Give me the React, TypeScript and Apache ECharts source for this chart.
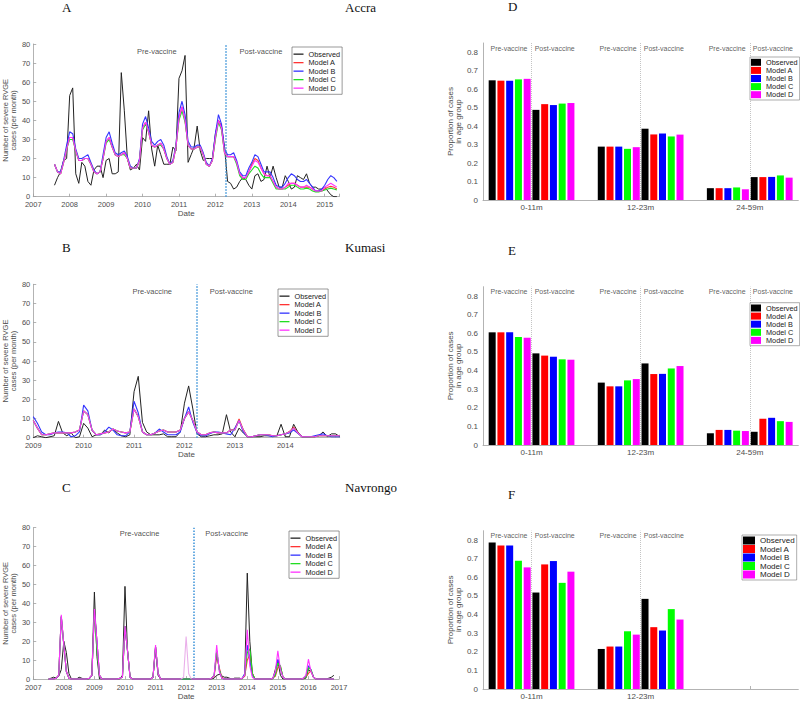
import React, { useEffect, useRef } from 'react';
import * as echarts from 'echarts';

// ---------- labels ----------
const MODELS = ['Observed', 'Model A', 'Model B', 'Model C', 'Model D'];
const AGE_GROUPS = ['0-11m', '12-23m', '24-59m'];
const PHASES = ['Pre-vaccine', 'Post-vaccine'];
const PANEL_LETTERS = ['A', 'B', 'C', 'D', 'E', 'F'];
const SITES = ['Accra', 'Kumasi', 'Navrongo'];
const LINE_Y_NAME = 'Number of severe RVGE\ncases (per month)';
const BAR_Y_NAME = 'Proportion of cases\nin age group';
const X_NAME = 'Date';

// ---------- monthly case counts ----------
// Accra: Aug 2007 .. May 2015
const ACCRA_START = 2007 + 7 / 12;
const ACCRA_OBS = [
  6, 10, 13, 19, 20,
  53, 57, 12, 7, 18, 16, 8, 6, 14, 16, 16, 10,
  19, 20, 12, 12, 13, 65, 45, 20, 14, 15, 17, 14,
  31, 29, 45, 25, 16, 27, 22, 17, 17, 17, 26, 24,
  62, 66, 74, 18, 22, 26, 37, 24, 19, 20, 20, 20,
  33, 40, 37, 26, 8, 7, 4, 5, 8, 10, 9, 6,
  4, 11, 12, 8, 9, 16, 10, 16, 10, 5, 5, 11,
  8, 4, 5, 11, 10, 9, 12, 7, 5, 5, 4, 4,
  5, 3, 1, 0, 0,
];
const ACCRA_A = [
  17, 13, 12, 18, 25,
  31, 31, 24, 19, 19, 20, 20, 17, 13, 12, 13, 20,
  29, 31, 26, 22, 21, 22, 23, 20, 15, 15, 15, 19,
  36, 39, 34, 27, 26, 27, 28, 25, 20, 17, 18, 26,
  41, 47, 40, 27, 25, 25, 26, 26, 22, 17, 16, 19,
  31, 40, 36, 23, 21, 21, 21, 18, 12, 10, 10, 13,
  17, 20, 19, 15, 12, 11, 11, 8, 5, 4, 4, 5,
  6, 7, 7, 6, 5, 5, 5, 5, 4, 3, 3, 3,
  4, 5, 5.5, 5, 4,
];
const ACCRA_B = [
  17, 13, 13, 19, 27,
  34, 33, 25, 20, 20, 21, 22, 18, 14, 12, 13, 22,
  31, 34, 28, 23, 22, 23, 24, 21, 16, 15, 15, 20,
  38, 42, 36, 29, 27, 29, 30, 27, 21, 17, 19, 27,
  44, 50, 43, 29, 26, 26, 27, 27, 23, 18, 16, 20,
  33, 43, 38, 25, 22, 22, 23, 19, 13, 11, 11, 15,
  18, 22, 21, 17, 13, 13, 13, 10, 6, 5, 5, 7,
  10, 12, 11, 9, 8, 8, 9, 7, 5, 3, 3, 4,
  6, 9, 11, 10, 8,
];
const ACCRA_C = [
  17, 13, 12, 18, 25,
  30, 30, 24, 19, 19, 20, 20, 17, 13, 12, 13, 20,
  28, 30, 26, 22, 21, 22, 22, 20, 15, 15, 15, 19,
  35, 38, 34, 27, 26, 27, 27, 25, 20, 17, 18, 26,
  40, 45, 39, 27, 25, 25, 26, 26, 22, 17, 16, 19,
  30, 39, 35, 23, 21, 21, 21, 17, 11, 9, 9, 12,
  14, 16, 15, 12, 10, 10, 10, 7, 4, 4, 4, 4,
  5, 6, 6, 5, 4, 4, 4.5, 4, 3, 2.5, 2.5, 3,
  3.5, 4, 4.5, 4, 3.5,
];
const ACCRA_D = [
  17, 13, 12, 18, 25,
  31, 31, 24, 19, 19, 20, 20, 17, 13, 12, 13, 20,
  29, 31, 26, 22, 21, 22, 23, 20, 15, 15, 15, 19,
  36, 39, 34, 27, 26, 27, 28, 25, 20, 17, 18, 26,
  41, 47, 40, 27, 25, 25, 26, 26, 22, 17, 16, 19,
  31, 40, 36, 23, 21, 21, 21, 18, 12, 10, 10, 13,
  16, 19, 18, 15, 12, 11, 11, 8, 5, 4, 4, 5,
  7, 7, 7, 6, 5, 5, 6, 5, 4, 3, 3, 3,
  5, 6, 7, 6, 5,
];

// Kumasi: Jan 2009 .. Feb 2015
const KUMASI_START = 2009;
const KUMASI_OBS = [
  0, 1, 0.5, 0, 0.5, 1, 8.5, 2.5, 1, 2.5, 0, 0.5,
  7.5, 5, 0.5, 1.5, 1.5, 4, 2.5, 4.5, 2.5, 1, 0.5, 1.5,
  24, 32, 8, 3, 1.5, 1.5, 1.5, 2, 0.5, 0.5, 0.5, 3,
  18, 27, 15, 2, 0.5, 0.5, 1, 1.5, 1.5, 2, 12, 3,
  0.5, 5, 2.5, 0.5, 0.5, 0.5, 0.5, 1, 1, 1, 1, 7,
  0.5, 0.5, 7, 3, 0.5, 0.5, 0.5, 0.5, 1, 3, 0.5, 2,
  2, 0.5,
];
const KUMASI_A = [
  9, 5, 1.5, 1.5, 2, 2.5, 2.5, 2.5, 2.5, 2.5, 3, 4,
  14, 12, 4, 1.5, 2, 2.5, 3, 4.5, 3.5, 3, 2.5, 3,
  15, 11, 3, 1.5, 1.5, 2.5, 3.5, 4, 3, 3, 3, 4,
  10, 13.5, 9, 3, 1.5, 1.5, 2.5, 3, 2.5, 2.5, 2.5, 4,
  4.5, 9.8, 4.2, 0.5, 0.5, 1, 1.5, 1.5, 1.5, 1, 1, 1.5,
  2, 3.2, 5.5, 2.7, 0.5, 0.5, 0.5, 0.5, 1, 1, 1, 1,
  1, 1,
];
const KUMASI_B = [
  11, 7.5, 3, 1.5, 1.5, 2.5, 3, 3, 2.5, 0.5, 1, 3,
  17, 14, 4, 1.5, 1.5, 3, 5.5, 4, 1.5, 1, 1, 3,
  19, 13, 3, 1.5, 1.5, 2.5, 4.5, 3, 1.5, 1.5, 1.5, 3,
  10, 16, 8, 2.5, 1, 1, 2, 3, 3, 2.5, 2, 1.5,
  5, 9, 3, 0.5, 0.5, 1, 1.5, 1.5, 1, 0.5, 1, 1.5,
  2, 2.5, 4, 2.3, 0.5, 0.5, 0.5, 1, 1.5, 2, 1, 0.5,
  0.5, 0.5,
];
const KUMASI_C = [
  9, 5, 1.5, 1.5, 2, 2.5, 2.5, 2.5, 2.5, 2.5, 3, 4,
  14, 12, 4, 1.5, 2, 2.5, 3, 4.5, 3.5, 3, 2.5, 3,
  15, 11, 3, 1.5, 1.5, 2.5, 3.5, 4, 3, 3, 3, 4,
  10, 13.5, 9, 3, 1.5, 1.5, 2.5, 3, 2.5, 2.5, 2.5, 4,
  4, 9, 4, 0.5, 0.5, 1, 1.5, 1.5, 1.5, 1, 1, 1.5,
  2, 3, 5, 2.5, 0.5, 0.5, 0.5, 0.5, 1, 1, 1, 1,
  1, 1,
];
const KUMASI_D = [
  9, 5, 1.5, 1.5, 2, 2.5, 2.5, 2.5, 2.5, 2.5, 3, 4,
  14, 12, 4, 1.5, 2, 2.5, 3, 4.5, 3.5, 3, 2.5, 3,
  15, 11, 3, 1.5, 1.5, 2.5, 3.5, 4, 3, 3, 3, 4,
  10, 13.5, 9, 3, 1.5, 1.5, 2.5, 3, 2.5, 2.5, 2.5, 4,
  4, 9, 4, 0.5, 0.5, 1, 1.5, 1.5, 1.5, 1, 1, 1.5,
  2, 3, 5, 2.5, 0.5, 0.5, 0.5, 0.5, 1, 1, 1, 1,
  1, 1,
];

// Navrongo: Jul 2007 .. Nov 2016
const NAV_START = 2007.5;
const NAV_OBS = [
  0, 0.5, 1, 0.5, 1.5, 5,
  20, 14, 3, 0, 0, 0, 1, 0.5, 0, 0, 0, 2,
  46, 12, 0, 0, 0, 0, 0, 0, 0, 0, 0, 2,
  49, 15, 1, 0, 0, 0, 0, 0, 0, 0, 0, 1,
  16, 2, 0, 0, 0, 0, 0, 0, 0, 0, 0, 0,
  0, 0, 0, 0, 0, 0, 0, 0, 0, 0, 0, 0.5,
  2, 2.5, 1.7, 1, 1, 0.5, 0, 0.5, 0.5, 0.5, 0, 2,
  56, 20, 3, 0, 0, 0, 0, 0, 0, 0, 0, 5,
  10, 2, 0, 0, 0, 0, 0, 0, 0, 0, 0, 0.5,
  5, 4, 1, 0, 0, 0, 0, 0, 0.5, 1, 2,
];
const NAV_A = [
  0, 0, 0, 0.5, 2, 33,
  18, 4, 0.5, 0, 0, 0, 0, 0, 0, 0, 0.5, 2,
  36, 20, 2, 0, 0, 0, 0, 0, 0, 0, 0.5, 1,
  28, 15, 1, 0, 0, 0, 0, 0, 0, 0, 0, 1,
  17, 3, 0, 0, 0, 0, 0, 0, 0, 0, 0, 0,
  0, 0, 0, 0, 0, 0, 0, 0, 0, 0, 0.5, 1.5,
  12, 6, 1, 0, 0, 0, 0, 0, 0, 0, 0.5, 1.5,
  10, 13, 3, 0, 0, 0, 0, 0, 0, 0, 0.5, 1.5,
  6, 7, 1, 0, 0, 0, 0, 0, 0, 0, 0.5, 1,
  3, 4.5, 1, 0, 0, 0, 0, 0, 0, 0, 0,
];
const NAV_B = [
  0, 0, 0, 0.5, 2, 33,
  18, 4, 0.5, 0, 0, 0, 0, 0, 0, 0, 0.5, 2,
  36, 20, 2, 0, 0, 0, 0, 0, 0, 0, 0.5, 1,
  28, 15, 1, 0, 0, 0, 0, 0, 0, 0, 0, 1,
  17, 3, 0, 0, 0, 0, 0, 0, 0, 0, 0, 0,
  0, 0, 0, 0, 0, 0, 0, 0, 0, 0, 0.5, 2,
  15, 5, 0.5, 0, 0, 0, 0, 0, 0, 0, 0.5, 3,
  18, 10, 2, 0, 0, 0, 0, 0, 0, 0, 0.5, 3,
  10.5, 6, 1, 0, 0, 0, 0, 0, 0, 0, 0.5, 1.5,
  7, 5, 1, 0, 0, 0, 0, 0, 0, 0, 0,
];
const NAV_C = [
  0, 0, 0, 0.5, 2, 33,
  18, 4, 0.5, 0, 0, 0, 0, 0, 0, 0, 0.5, 2,
  36, 15, 2, 0, 0, 0, 0, 0, 0, 0, 0.5, 1,
  28, 15, 1, 0, 0, 0, 0, 0, 0, 0, 0, 1,
  17, 3, 0, 0, 0, 0, 0, 0, 0, 0, 0, 0,
  0, 0, 0, 0, 0, 0, 0, 0, 0, 0, 0.5, 2,
  15, 5, 0.5, 0, 0, 0, 0, 0, 0, 0, 0.5, 2,
  14, 16, 3, 0, 0, 0, 0, 0, 0, 0, 0.5, 2,
  8.5, 7, 1, 0, 0, 0, 0, 0, 0, 0, 0.5, 1,
  6, 5, 1, 0, 0, 0, 0, 0, 0, 0, 0,
];
const NAV_D = [
  0, 0, 0, 0.5, 2, 34,
  18, 4, 0.5, 0, 0, 0, 0, 0, 0, 0, 0.5, 2,
  37, 20, 2, 0, 0, 0, 0, 0, 0, 0, 0.5, 1,
  28, 15, 1, 0, 0, 0, 0, 0, 0, 0, 0, 1,
  18, 3, 0, 0, 0, 0, 0, 0, 0, 0, 0, 1,
  22.5, 3, 0, 0, 0, 0, 0, 0, 0, 0, 0.5, 2,
  18, 4, 0.5, 0, 0, 0, 0, 0, 0, 0, 0.5, 2,
  26, 7, 1, 0, 0, 0, 0, 0, 0, 0, 0.5, 4,
  15, 5, 1, 0, 0, 0, 0, 0, 0, 0, 0.5, 2,
  10.5, 4, 1, 0, 0, 0, 0, 0, 0, 0, 0,
];
// months of Model D drawn faded in Navrongo (around Jan 2012)
const NAV_FADED = [52, 56];

// ---------- proportions by age group [group][model] ----------
const ACCRA_PRE = [[0.648, 0.646, 0.646, 0.653, 0.656], [0.289, 0.289, 0.289, 0.277, 0.286], [0.064, 0.064, 0.064, 0.068, 0.058]];
const ACCRA_POST = [[0.488, 0.519, 0.514, 0.522, 0.525], [0.386, 0.355, 0.36, 0.344, 0.354], [0.124, 0.124, 0.125, 0.133, 0.121]];
const KUMASI_PRE = [[0.605, 0.605, 0.605, 0.58, 0.576], [0.335, 0.315, 0.315, 0.347, 0.354], [0.063, 0.081, 0.081, 0.077, 0.075]];
const KUMASI_POST = [[0.492, 0.48, 0.474, 0.46, 0.458], [0.438, 0.381, 0.382, 0.411, 0.424], [0.071, 0.141, 0.146, 0.128, 0.124]];
const NAV_PRE = [[0.786, 0.771, 0.771, 0.689, 0.653], [0.215, 0.228, 0.228, 0.31, 0.292]];
const NAV_POST = [[0.518, 0.669, 0.687, 0.57, 0.63], [0.484, 0.332, 0.314, 0.429, 0.373]];

// ---------- styles ----------
const FONT = '"Liberation Sans", Arial, Helvetica, sans-serif';
const SERIF = '"Liberation Serif", "DejaVu Serif", serif';
const AX = '#a0a0a0';
const TXT = '#4d4d4d';
const LINE_COLORS = ['#222222', '#ff3333', '#3333ff', '#22dd22', '#ff33ff'];
const BAR_COLORS = ['#000000', '#ff0000', '#0000ff', '#00ff00', '#ff00ff'];
const FADED_D = '#eab0ea';
const VACC_COLOR = '#3b93d9';

const LINE_PANELS = [
  { grid: { left: 31.5, top: 44, width: 307.8, height: 152.7 }, xMin: 2007, xMax: 2015.4, lastYear: 2015, start: ACCRA_START,
    data: [ACCRA_OBS, ACCRA_A, ACCRA_B, ACCRA_C, ACCRA_D], vaccine: 2012.29, phasePos: [[2010.39, 76.3], [2013.25, 76.3]], legend: { left: 292, top: 47 } },
  { grid: { left: 30.5, top: 284.3, width: 309.2, height: 153.4 }, xMin: 2009, xMax: 2015.08, lastYear: 2014, start: KUMASI_START,
    data: [KUMASI_OBS, KUMASI_A, KUMASI_B, KUMASI_C, KUMASI_D], vaccine: 2012.24, phasePos: [[2011.36, 76.5], [2012.93, 76.5]], legend: { left: 278, top: 289 } },
  { grid: { left: 32, top: 527.7, width: 307, height: 153 }, xMin: 2007, xMax: 2017, lastYear: 2017, start: NAV_START,
    data: [NAV_OBS, NAV_A, NAV_B, NAV_C, NAV_D], vaccine: 2012.25, phasePos: [[2010.48, 77], [2013.33, 77]], legend: { left: 289, top: 531 } },
];

const BAR_PANELS = [
  { grid: { left: 483, top: 43, width: 315.3, height: 157 }, pre: ACCRA_PRE, post: ACCRA_POST, legend: { left: 750, top: 57 }, icon: [10, 7], font: 7.3, lh: 7.6 },
  { grid: { left: 483, top: 286.7, width: 315.3, height: 158.3 }, pre: KUMASI_PRE, post: KUMASI_POST, legend: { left: 750, top: 302.7 }, icon: [10, 7], font: 7.3, lh: 7.6 },
  { grid: { left: 483, top: 530.7, width: 315.3, height: 158.3 }, pre: NAV_PRE, post: NAV_POST, legend: { left: 742, top: 535 }, icon: [12, 8], font: 8, lh: 8 },
];

const TITLE_TOPS = [1, 241, 481, 0, 244, 488];

function monthly(start: number, vals: (number | string)[]) {
  return vals.map((v, i) => [start + i / 12, v]);
}

function buildOption() {
  const grids: any[] = [];
  const xAxes: any[] = [];
  const yAxes: any[] = [];
  const series: any[] = [];
  const legends: any[] = [];

  const tickStyle = { show: true, inside: true, length: 3, lineStyle: { color: AX, width: 0.8 } };
  const labelBase = { color: TXT, fontSize: 7.5, fontFamily: FONT };

  LINE_PANELS.forEach((p, k) => {
    grids.push({ ...p.grid, containLabel: false });
    xAxes.push({
      type: 'value', gridIndex: k, min: p.xMin, max: p.xMax, interval: 1,
      name: X_NAME, nameLocation: 'middle', nameGap: 12,
      nameTextStyle: { color: TXT, fontSize: 8, fontFamily: FONT },
      axisLine: { show: true, onZero: false, lineStyle: { color: AX, width: 0.8 } },
      axisTick: tickStyle,
      splitLine: { show: false },
      axisLabel: { ...labelBase, margin: 4, showMaxLabel: true,
        formatter: (v: number) => (Number.isInteger(v) && v <= p.lastYear ? String(v) : '') },
    });
    yAxes.push({
      type: 'value', gridIndex: k, min: 0, max: 80, interval: 10,
      name: LINE_Y_NAME, nameLocation: 'middle', nameGap: 13,
      nameTextStyle: { color: TXT, fontSize: 7.5, fontFamily: FONT, lineHeight: 8.5 },
      axisLine: { show: true, lineStyle: { color: AX, width: 0.8 } },
      axisTick: tickStyle,
      splitLine: { show: false },
      axisLabel: { ...labelBase, margin: 3 },
    });
    p.data.forEach((vals, m) => {
      let values: (number | string)[] = vals;
      const isNavD = k === 2 && m === 4;
      if (isNavD) values = vals.map((v, i) => (i > NAV_FADED[0] && i < NAV_FADED[1] ? '-' : v));
      const s: any = {
        type: 'line', name: MODELS[m], xAxisIndex: k, yAxisIndex: k,
        data: monthly(p.start, values), symbol: 'none', silent: true,
        lineStyle: { color: LINE_COLORS[m], width: m === 0 ? 1 : 1.1 },
        itemStyle: { color: LINE_COLORS[m] },
        z: 2 + m,
      };
      if (m === 0) {
        s.markLine = {
          silent: true, symbol: ['none', 'none'], label: { show: false },
          lineStyle: { color: VACC_COLOR, type: 'dotted', width: 1.5 },
          data: [{ xAxis: p.vaccine }],
        };
      }
      series.push(s);
      if (isNavD) {
        series.push({
          type: 'line', name: 'Model D (faded)', xAxisIndex: k, yAxisIndex: k, silent: true,
          data: monthly(p.start, vals.map((v, i) => (i >= NAV_FADED[0] && i <= NAV_FADED[1] ? v : '-'))),
          symbol: 'none', lineStyle: { color: FADED_D, width: 1.1 }, itemStyle: { color: FADED_D }, z: 7,
        });
      }
    });
    series.push({
      type: 'scatter', xAxisIndex: k, yAxisIndex: k, symbolSize: 1, silent: true,
      itemStyle: { color: 'rgba(0,0,0,0)' },
      label: { show: true, position: 'inside', formatter: '{b}', color: '#222', fontSize: 7.5, fontFamily: FONT },
      data: PHASES.map((ph, i) => ({ name: ph, value: p.phasePos[i] })),
      z: 10,
    });
    legends.push({
      data: MODELS, orient: 'vertical', left: p.legend.left, top: p.legend.top, icon: 'rect', z: 30,
      itemWidth: 10, itemHeight: 1.3, itemGap: 1.2, padding: [3.5, 2, 2.5, 1.5],
      borderColor: '#555', borderWidth: 0.6, backgroundColor: '#fff', selectedMode: false,
      textStyle: { fontSize: 7.3, lineHeight: 7.3, color: '#222', fontFamily: FONT },
    });
  });

  BAR_PANELS.forEach((p, j) => {
    const k = j + 3;
    const nGroups = p.pre.length;
    const centers = AGE_GROUPS.map((_, i) => i + 1);
    grids.push({ ...p.grid, containLabel: false });
    xAxes.push({
      type: 'value', gridIndex: k, min: 0.555, max: 3.445,
      axisLine: { show: true, onZero: false, lineStyle: { color: AX, width: 0.8 } },
      axisTick: { ...tickStyle, customValues: centers },
      splitLine: { show: false },
      axisLabel: { ...labelBase, fontSize: 8, margin: 3, customValues: centers.slice(0, nGroups),
        formatter: (v: number) => (Number.isInteger(v) && v <= nGroups ? AGE_GROUPS[v - 1] : '') },
    });
    yAxes.push({
      type: 'value', gridIndex: k, min: 0, max: 0.85, interval: 0.1,
      name: BAR_Y_NAME, nameLocation: 'middle', nameGap: 19,
      nameTextStyle: { color: TXT, fontSize: 8, fontFamily: FONT, lineHeight: 8.5 },
      axisLine: { show: true, lineStyle: { color: AX, width: 0.8 } },
      axisTick: { show: false },
      splitLine: { show: false },
      axisLabel: { ...labelBase, fontSize: 8, margin: 5, showMaxLabel: false,
        formatter: (v: number) => (v > 0.801 ? '' : String(Math.round(v * 10) / 10)) },
    });
    [p.pre, p.post].forEach((phaseVals) => {
      MODELS.forEach((name, m) => {
        series.push({
          type: 'bar', name: name + ' ', xAxisIndex: k, yAxisIndex: k, silent: true,
          barWidth: 7, barGap: '25%',
          data: phaseVals.map((g, gi) => [gi + 1, g[m]]),
          itemStyle: { color: BAR_COLORS[m], borderWidth: 0 },
        });
      });
    });
    const phaseData: any[] = [];
    for (let g = 1; g <= nGroups; g++) {
      phaseData.push({ name: PHASES[0], value: [g - 0.207, 0.822] });
      phaseData.push({ name: PHASES[1], value: [g + 0.212, 0.822] });
    }
    series.push({
      type: 'scatter', xAxisIndex: k, yAxisIndex: k, symbolSize: 1, silent: true,
      itemStyle: { color: 'rgba(0,0,0,0)' },
      label: { show: true, position: 'inside', formatter: '{b}', color: '#333', fontSize: 7, fontFamily: FONT },
      data: phaseData, z: 10,
      markLine: {
        silent: true, symbol: ['none', 'none'], label: { show: false },
        lineStyle: { color: '#c4c4c4', type: 'dotted', width: 1 },
        data: centers.slice(0, nGroups).map((c) => ({ xAxis: c })),
      },
    });
    legends.push({
      data: MODELS.map((n) => n + ' '), formatter: (n: string) => n.trim(), z: 30,
      orient: 'vertical', left: p.legend.left, top: p.legend.top, icon: 'rect',
      itemWidth: p.icon[0], itemHeight: p.icon[1], itemGap: 0.5, padding: [1.5, 2, 1.5, 1],
      borderColor: '#777', borderWidth: 0.6, backgroundColor: '#fff', selectedMode: false,
      textStyle: { fontSize: p.font, lineHeight: p.lh, color: '#222', fontFamily: FONT },
    });
  });

  const titleStyle = { fontFamily: SERIF, fontSize: 13, fontWeight: 'normal', color: '#111' };
  const titles: any[] = [
    ...PANEL_LETTERS.map((t, i) => ({ text: t, left: i < 3 ? 62 : 508, top: TITLE_TOPS[i], padding: 0, textStyle: titleStyle })),
    ...SITES.map((s, i) => ({ text: s, left: 345, top: TITLE_TOPS[i], padding: 0, textStyle: titleStyle })),
  ];

  return {
    animation: false,
    backgroundColor: '#ffffff',
    textStyle: { fontFamily: FONT },
    title: titles,
    grid: grids,
    xAxis: xAxes,
    yAxis: yAxes,
    legend: legends,
    series,
  };
}

export default function App() {
  const ref = useRef<HTMLDivElement>(null);
  useEffect(() => {
    if (!ref.current) return;
    const chart = echarts.init(ref.current, null, { renderer: 'svg' });
    chart.setOption(buildOption() as any);
    return () => chart.dispose();
  }, []);
  return <div ref={ref} style={{ position: 'absolute', left: 0, top: 0, width: 800, height: 701 }} />;
}
